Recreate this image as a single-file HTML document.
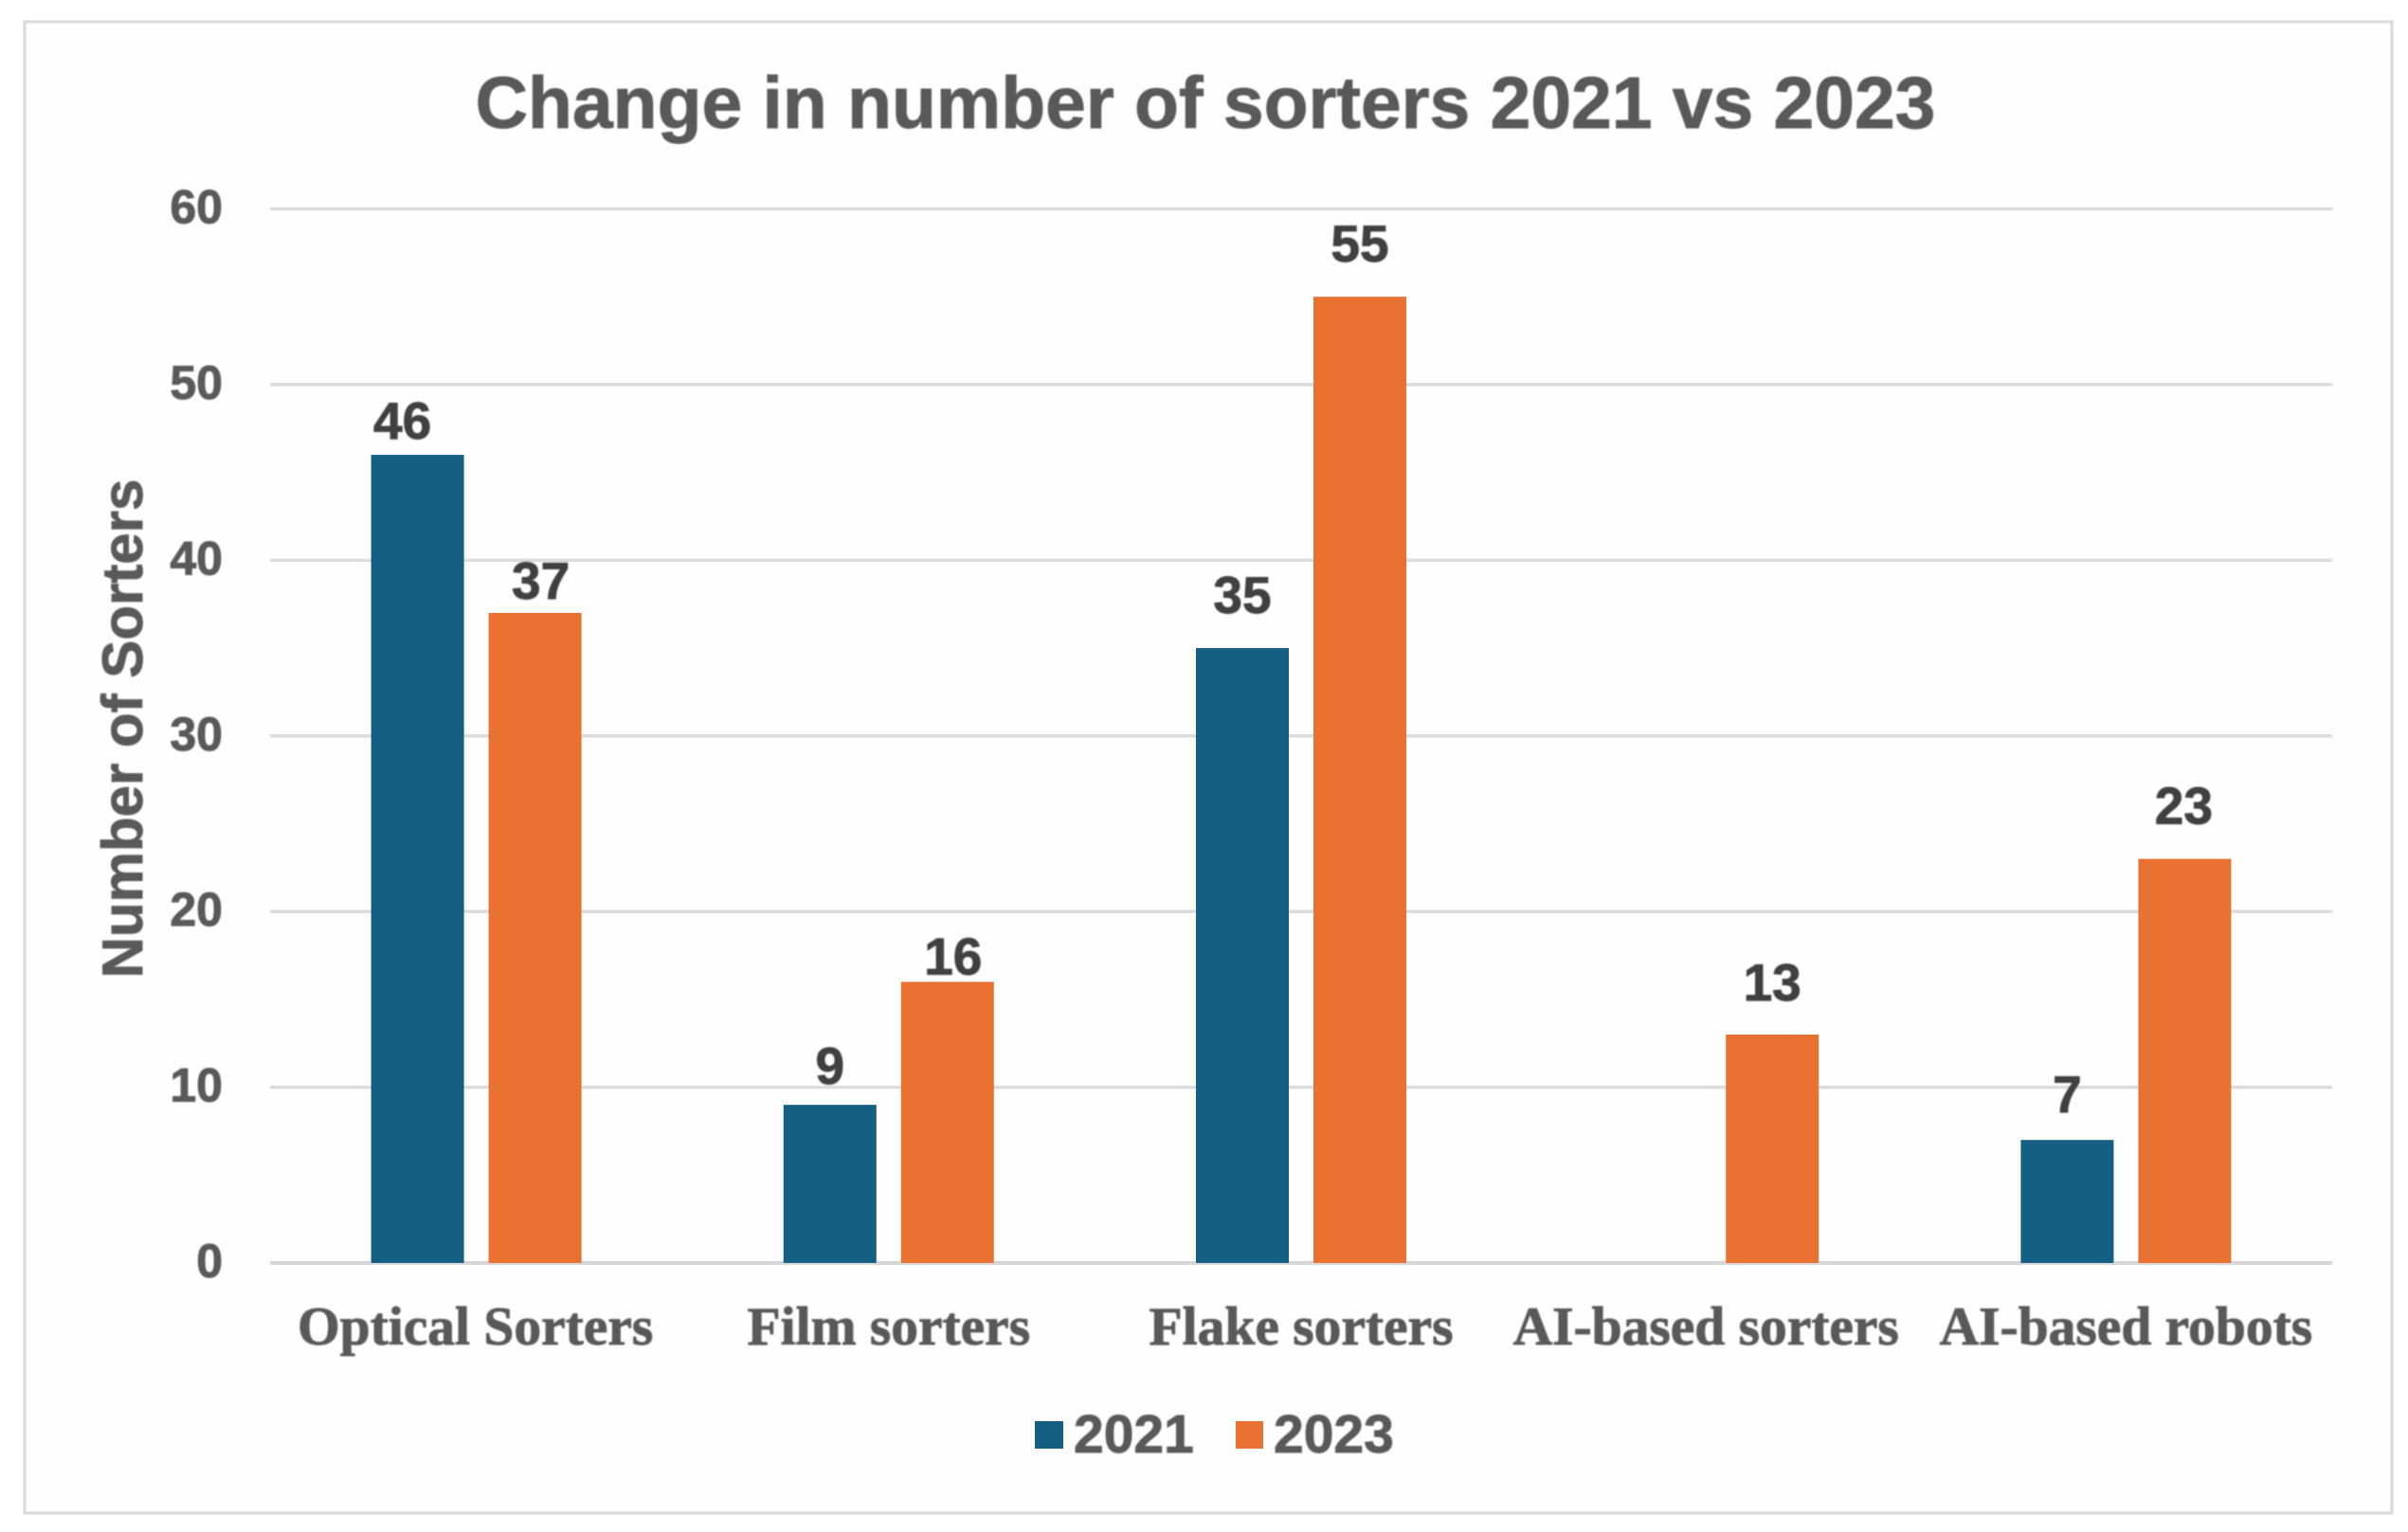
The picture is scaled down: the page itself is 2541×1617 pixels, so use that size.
<!DOCTYPE html>
<html lang="en">
<head>
<meta charset="utf-8">
<title>Change in number of sorters 2021 vs 2023</title>
<style>
  html, body { margin: 0; padding: 0; background: #ffffff; }
  svg { display: block; }
  text { font-family: "Liberation Sans", sans-serif; font-weight: 700; }
  .soft { filter: blur(0.7px); stroke-width: 0.9px; paint-order: stroke; }
</style>
</head>
<body>
<svg id="chart" xmlns="http://www.w3.org/2000/svg" width="2541" height="1617" viewBox="0 0 2541 1617"></svg>
<script>
const chartTitle = 'Change in number of sorters 2021 vs 2023';
const yAxisTitle = 'Number of Sorters';
const categories = ['Optical Sorters', 'Film sorters', 'Flake sorters', 'AI-based sorters', 'AI-based robots'];
const seriesNames = ['2021', '2023'];
const values2021 = [46, 9, 35, null, 7];
const values2023 = [37, 16, 55, 13, 23];
const yTicks = [0, 10, 20, 30, 40, 50, 60];

const COLORS = ['#156082', '#E97132'];
const plot = { left: 285, right: 2461, zeroY: 1333, topY: 220.5, maxValue: 60 };
const barWidth = 98;
const barGap = 26;

// manual placement of printed labels in the source chart (layout, not data)
const labelNudge2021 = [[-16, -17], [0, -22], [0, -37], [0, 0], [0, -29]];
const labelNudge2023 = [[6, -15], [6, -8], [0, -37], [0, -36], [-1, -37]];
const categoryNudge = [-1, 0, 0, -8, 0];

function xBand(i) {
  return plot.left + (plot.right - plot.left) * (i + 0.5) / categories.length;
}
function yScale(v) {
  return plot.zeroY - (plot.zeroY - plot.topY) * v / plot.maxValue;
}

const svg = document.getElementById('chart');
const NS = 'http://www.w3.org/2000/svg';
function make(tag, attrs, text) {
  const el = document.createElementNS(NS, tag);
  for (const k in attrs) el.setAttribute(k, attrs[k]);
  if (text !== undefined) el.textContent = text;
  svg.appendChild(el);
  return el;
}

const pageBg = make('rect', { x: 0, y: 0, width: 2541, height: 1617, fill: '#ffffff' });



const frame = make('rect', { x: 26, y: 23, width: 2498, height: 1574, fill: '#fefefe', stroke: '#d9d9d9', 'stroke-width': 3 });



const titleEl = make('text', { x: 1272, y: 135, 'text-anchor': 'middle', 'font-size': 76.8, fill: '#595959', stroke: '#595959', class: 'soft' }, chartTitle);



const yTitleEl = make('text', { x: 0, y: 0, transform: 'translate(150 769) rotate(-90)', 'text-anchor': 'middle', 'font-size': 60, fill: '#595959', stroke: '#595959', class: 'soft' }, yAxisTitle);



yTicks.forEach(function (t) {
  const y = yScale(t);
  const line = make('line', { x1: plot.left, x2: plot.right, y1: y, y2: y, stroke: t === 0 ? '#d6d6d6' : '#dcdcdc', 'stroke-width': t === 0 ? 4 : 3.5 });
  
  
  const label = make('text', { x: 235, y: y + 15, 'text-anchor': 'end', 'font-size': 50, fill: '#595959', stroke: '#595959', class: 'soft' }, String(t));
  
  
});

function drawSeries(values, seriesIndex, nudges) {
  values.forEach(function (v, i) {
    if (v === null) return;
    const groupWidth = barWidth * 2 + barGap;
    const x = xBand(i) - groupWidth / 2 + seriesIndex * (barWidth + barGap);
    const y = yScale(v);
    const bar = make('rect', { x: x, y: y, width: barWidth, height: plot.zeroY - y, fill: COLORS[seriesIndex] });
    
    
    const label = make('text', { x: x + barWidth / 2 + nudges[i][0], y: y + nudges[i][1], 'text-anchor': 'middle', 'font-size': 55, fill: '#404040', stroke: '#404040', class: 'soft' }, String(v));
    
    
  });
}
drawSeries(values2021, 0, labelNudge2021);
drawSeries(values2023, 1, labelNudge2023);

categories.forEach(function (c, i) {
  const label = make('text', { x: xBand(i) + categoryNudge[i], y: 1419, 'text-anchor': 'middle', 'font-size': 57.5, fill: '#595959', stroke: '#595959', style: 'font-family:"Liberation Serif",serif', class: 'soft' }, c);
  
  
});

const legendSwatch0 = make('rect', { x: 1092, y: 1500, width: 30, height: 29, fill: COLORS[0] });


const legendText0 = make('text', { x: 1133, y: 1533, 'font-size': 57, fill: '#595959', stroke: '#595959', class: 'soft' }, seriesNames[0]);


const legendSwatch1 = make('rect', { x: 1304, y: 1500, width: 29, height: 29, fill: COLORS[1] });


const legendText1 = make('text', { x: 1344, y: 1533, 'font-size': 57, fill: '#595959', stroke: '#595959', class: 'soft' }, seriesNames[1]);


</script>
</body>
</html>
